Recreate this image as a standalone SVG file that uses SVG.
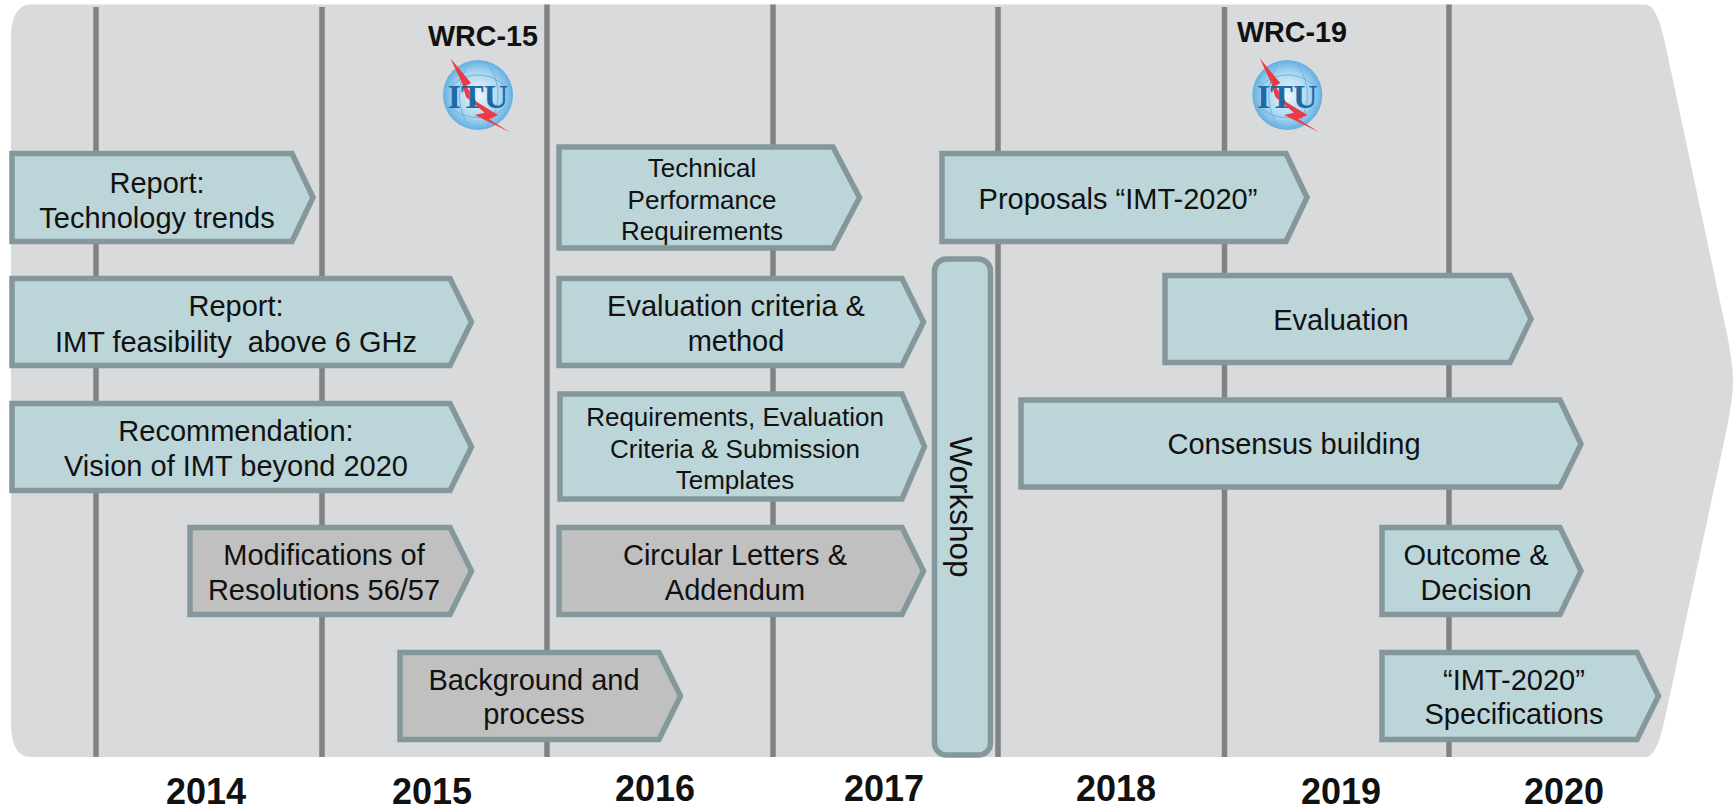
<svg xmlns="http://www.w3.org/2000/svg" width="1733" height="808" viewBox="0 0 1733 808">
<style>
.l{stroke:#808284;stroke-width:5.5;fill:none}
.b{fill:#bbd5d9;stroke:#84989c;stroke-width:5.500;stroke-linejoin:miter}
.g{fill:#c0c0c0;stroke:#84989c;stroke-width:5.500;stroke-linejoin:miter}
text{font-family:"Liberation Sans",Arial,sans-serif;fill:#111;text-anchor:middle;font-size:29px;white-space:pre}
.s{font-size:26px}
.y{font-weight:bold;font-size:36px}
.w{font-weight:bold;font-size:28.7px}
.i{font-family:"Liberation Serif",serif;font-weight:bold;font-size:34px;fill:#1f6aa5}
.k{font-size:31.5px}
</style>
<defs>
<radialGradient id="globe" cx="50%" cy="50%" r="55%"><stop offset="0" stop-color="#eef6fb"/><stop offset="0.6" stop-color="#a9d6f0"/><stop offset="1" stop-color="#4fa3dc"/></radialGradient>
<g id="itu">
<circle cx="0" cy="0" r="35" fill="url(#globe)"/>
<path d="M-28-8C-12-24 12-24 28-8M-28 12C-12 26 12 26 28 12M-8-34C-22-12-22 12-8 34M8-34C24-12 24 12 8 34" fill="none" stroke="#6fb3de" stroke-width="1"/>
<path d="M-27.600-36.700L-7-12-12-9-1.600 6.700 20 20 11 24.300 32 37.300-3.300 20 6.700 17.700-12 2-16-12Z" fill="#ee3a43"/>
<text class="i" x="0" y="13">ITU</text>
</g>
</defs>
<path id="background" d="M30 4.500H1645C1655 4.500 1661 24 1665 43L1724 320Q1733 360 1733 381Q1733 400 1724 442L1665 718C1660 740 1655 757 1645 757H30C18 757 11 745 11 723V36C11 18 18 4.500 30 4.500Z" fill="#d9dadc"/>
<g id="connectors">
<path class="l" d="M96 7V757M322 7V757M547 4.500V757M773 4.500V757M998 7V757M1224.500 7V757M1449 4.500V757"/>
</g>
<g id="wrc15"><text class="w" x="483" y="46">WRC-15</text><use href="#itu" x="478" y="95"/></g>
<g id="wrc19"><text class="w" x="1292" y="41.500">WRC-19</text><use href="#itu" x="1287.300" y="95"/></g>
<g id="n1"><path class="b" d="M12 153.500H292L313 197.500L292 241.500H12Z"/><text x="157" y="193">Report:</text><text x="157" y="228">Technology trends</text></g>
<g id="n2"><path class="b" d="M12 278.500H450L471.500 322L450 365.500H12Z"/><text x="236" y="316">Report:</text><text x="236" y="352">IMT feasibility  above 6 GHz</text></g>
<g id="n3"><path class="b" d="M12 403.500H450L471.500 447L450 490.500H12Z"/><text x="236" y="441">Recommendation:</text><text x="236" y="476">Vision of IMT beyond 2020</text></g>
<g id="n4"><path class="g" d="M190 527.500H450L471.500 571L450 614.500H190Z"/><text x="324" y="565">Modifications of</text><text x="324" y="600">Resolutions 56/57</text></g>
<g id="n5"><path class="g" d="M400 652.500H659L680.500 696L659 739.500H400Z"/><text x="534" y="690">Background and</text><text x="534" y="724">process</text></g>
<g id="n6"><path class="b" d="M559 147H833L859.500 197.500L833 248H559Z"/><text class="s" x="702" y="177">Technical</text><text class="s" x="702" y="209">Performance</text><text class="s" x="702" y="240">Requirements</text></g>
<g id="n7"><path class="b" d="M559 278.500H902L923.500 322L902 365.500H559Z"/><text x="736" y="316">Evaluation criteria &amp;</text><text x="736" y="351">method</text></g>
<g id="n8"><path class="b" d="M560 394H902L924.500 446.500L902 499H560Z"/><text class="s" x="735" y="426">Requirements, Evaluation</text><text class="s" x="735" y="458">Criteria &amp; Submission</text><text class="s" x="735" y="489">Templates</text></g>
<g id="n9"><path class="g" d="M559 527.500H902L923.500 571L902 614.500H559Z"/><text x="735" y="565">Circular Letters &amp;</text><text x="735" y="600">Addendum</text></g>
<g id="n10"><rect class="b" x="934.500" y="259" width="56" height="496" rx="12"/><text class="k" transform="translate(950 507) rotate(90)" x="0" y="0">Workshop</text></g>
<g id="n11"><path class="b" d="M942 153.500H1286L1307 197.500L1286 241.500H942Z"/><text x="1118" y="209">Proposals “IMT-2020”</text></g>
<g id="n12"><path class="b" d="M1165 275.500H1510L1531 319L1510 362.500H1165Z"/><text x="1341" y="330">Evaluation</text></g>
<g id="n13"><path class="b" d="M1021 400H1560L1581 444L1560 487H1021Z"/><text x="1294" y="454">Consensus building</text></g>
<g id="n14"><path class="b" d="M1382 527.500H1560L1581 571L1560 614.500H1382Z"/><text x="1476" y="565">Outcome &amp;</text><text x="1476" y="600">Decision</text></g>
<g id="n15"><path class="b" d="M1382 652.500H1637L1658.500 696L1637 739.500H1382Z"/><text x="1514" y="690">“IMT-2020”</text><text x="1514" y="724">Specifications</text></g>
<g id="years">
<text class="y" x="206" y="804">2014</text><text class="y" x="432" y="804">2015</text><text class="y" x="655" y="801">2016</text><text class="y" x="884" y="801">2017</text><text class="y" x="1116" y="801">2018</text><text class="y" x="1341" y="804">2019</text><text class="y" x="1564" y="804">2020</text>
</g>
</svg>
